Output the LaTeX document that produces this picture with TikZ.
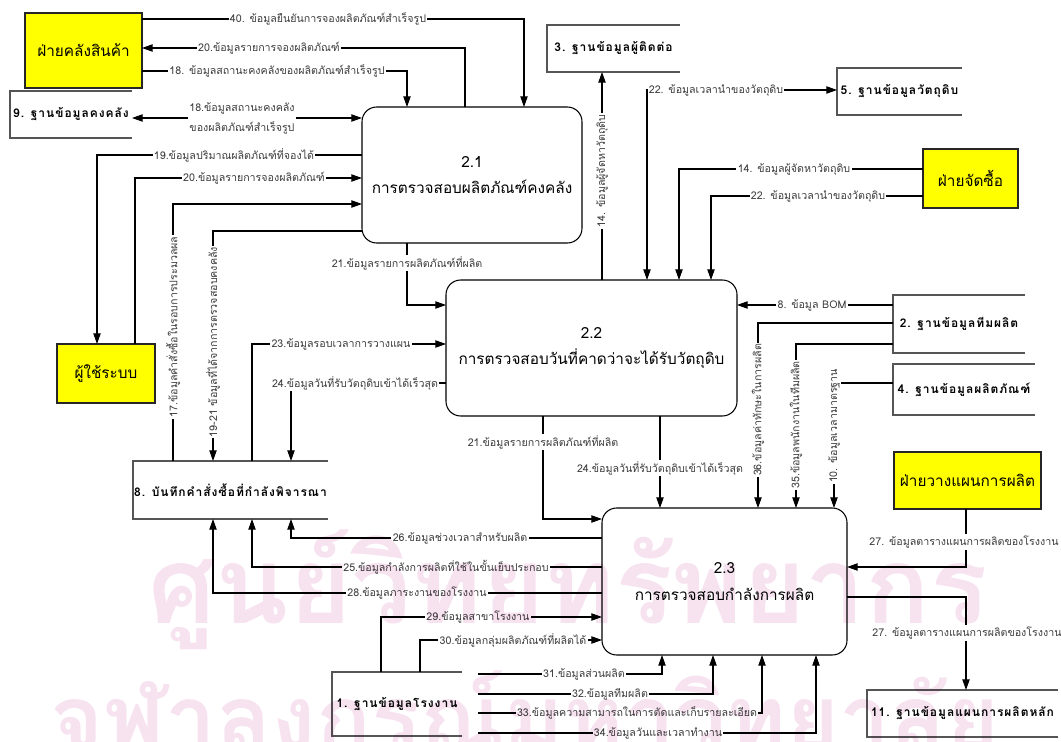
\documentclass[tikz,border=0pt]{standalone}
\usepackage{fontspec}
\setmainfont{Loma}[Script=Thai]
\usetikzlibrary{arrows.meta}
\definecolor{entfill}{RGB}{255,255,0}
\definecolor{lblgray}{RGB}{60,60,60}
\definecolor{storegray}{RGB}{85,85,85}
\definecolor{wmpink}{RGB}{247,226,240}
\newcommand\storefont{\fontsize{9}{11}\selectfont\bfseries\addfontfeature{LetterSpace=8}}
\begin{document}
\begin{tikzpicture}[x=0.75pt,y=-0.75pt,
  every node/.style={inner sep=0pt,outer sep=0pt},
  box/.style 2 args={minimum width=#1*0.75pt,minimum height=#2*0.75pt,anchor=north west},
  entity/.style={draw=black!85,line width=1.1pt,fill=entfill,font=\fontsize{11.5}{14}\selectfont},
  proc/.style={draw=black,line width=0.8pt,rounded corners=11pt,align=center,
    font=\fontsize{11.5}{20}\selectfont},
  store/.style={font=\storefont},
  storeline/.style={draw=storegray,line width=1.1pt},
  flow/.style={draw=black,line width=0.8pt,-{Triangle[length=8pt,width=5.5pt]}},
  flowtwo/.style={draw=black,line width=0.8pt,{Triangle[length=8pt,width=5.5pt]}-{Triangle[length=8pt,width=5.5pt]}},
  lbl/.style={font=\fontsize{8}{10}\selectfont,text=lblgray,fill=white,inner xsep=1pt,inner ysep=1pt},
  vlbl/.style={lbl,rotate=90}]
\useasboundingbox (0,0) rectangle (1061,742);

% external entities
\node[entity,box={117}{75}] (wh) at (25,13) {ฝ่ายคลังสินค้า};
\node[entity,box={95}{59}] (buy) at (923,149) {ฝ่ายจัดซื้อ};
\node[entity,box={98}{59}] (usr) at (57,344) {ผู้ใช้ระบบ};
\node[entity,box={147}{57}] (plan) at (894,452) {ฝ่ายวางแผนการผลิต};

% processes
\node[proc,box={220}{136}] (p21) at (362,107) {2.1\\การตรวจสอบผลิตภัณฑ์คงคลัง};
\node[proc,box={291}{136}] (p22) at (446,280) {2.2\\การตรวจสอบวันที่คาดว่าจะได้รับวัตถุดิบ};
\node[proc,box={245}{147}] (p23) at (602,508) {2.3\\การตรวจสอบกำลังการผลิต};

% data stores (open on the right)
\node[store,box={122}{47}] (d9) at (10,91) {9. ฐานข้อมูลคงคลัง};
\node[store,box={133}{47}] (d3) at (547,25) {3. ฐานข้อมูลผู้ติดต่อ};
\node[store,box={125}{47}] (d5) at (837,68) {5. ฐานข้อมูลวัตถุดิบ};
\node[store,box={132}{58}] (d2) at (893,295) {2. ฐานข้อมูลทีมผลิต};
\node[store,box={142}{51}] (d4) at (893,364) {4. ฐานข้อมูลผลิตภัณฑ์};
\node[store,box={195}{58}] (d8) at (133,461) {8. บันทึกคำสั่งซื้อที่กำลังพิจารณา};
\node[store,box={130}{64}] (d1) at (332,672) {1. ฐานข้อมูลโรงงาน};
\node[store,box={191}{47}] (d11) at (867,690) {11. ฐานข้อมูลแผนการผลิตหลัก};
\foreach \s in {d9,d3,d5,d2,d4,d8,d1,d11}
  \draw[storeline] (\s.north east) -- (\s.north west) -- (\s.south west) -- (\s.south east);

% free starting points of the flows 31-34
\coordinate (s31) at (478,674);
\coordinate (s32) at (478,694);
\coordinate (s33) at (478,713);
\coordinate (s34) at (478,733);

% flows around 2.1
\draw[flow] (wh.east |- 0,19) -| (p21.north -| 524,0);
\draw[flow] (p21.north -| 465,0) |- (wh.east |- 0,48);
\draw[flow] (wh.east |- 0,71) -| (p21.north -| 407,0);
\draw[flowtwo] (d9.east |- 0,118) -- (p21.west |- 0,118);
\draw[flow] (p21.west |- 0,155) -| (usr.north -| 97,0);
\draw[flow] (usr.north -| 135,0) |- (p21.west |- 0,178);
\draw[flow] (d8.north -| 173,0) |- (p21.west |- 0,204);
\draw[flow] (p21.west |- 0,231) -| (d8.north -| 213,0);
\draw[flow] (p21.south -| 407,0) |- (p22.west |- 0,305);

% flows around 2.2
\draw[flow] (d8.north -| 252,0) |- (p22.west |- 0,344);
\draw[flow] (p22.west |- 0,383) -| (d8.north -| 291,0);
\draw[flow] (p22.north -| 602,0) -- (d3.south -| 602,0);
\draw[flowtwo] (p22.north -| 647,0) |- (d5.west |- 0,90);
\draw[flow] (buy.west |- 0,169) -| (p22.north -| 679,0);
\draw[flow] (buy.west |- 0,196) -| (p22.north -| 711,0);
\draw[flow] (d2.west |- 0,305) -- (p22.east |- 0,305);
\draw[flow] (p22.south -| 543,0) |- (p23.west |- 0,519);
\draw[flow] (p22.south -| 660,0) -- (p23.north -| 660,0);

% flows around 2.3
\draw[flow] (d2.west |- 0,323) -| (p23.north -| 758,0);
\draw[flow] (d2.west |- 0,344) -| (p23.north -| 796,0);
\draw[flow] (d4.west |- 0,383) -| (p23.north -| 834,0);
\draw[flow] (p23.west |- 0,538) -| (d8.south -| 291,0);
\draw[flow] (p23.west |- 0,567) -| (d8.south -| 252,0);
\draw[flow] (p23.west |- 0,593) -| (d8.south -| 213,0);
\draw[flow] (d1.north -| 381,0) |- (p23.west |- 0,617);
\draw[flow] (d1.north -| 420,0) |- (p23.west |- 0,640);
\draw[flow] (s31) -| (p23.south -| 662,0);
\draw[flow] (s32) -| (p23.south -| 713,0);
\draw[flow] (s33) -| (p23.south -| 762,0);
\draw[flow] (s34) -| (p23.south -| 816,0);
\draw[flow] (plan.south -| 966,0) |- (p23.east |- 0,567);
\draw[flow] (p23.east |- 0,597) -| (d11.north -| 966,0);

% flow labels
\node[lbl] (l40) at (328,19) {40. ข้อมูลยืนยันการจองผลิตภัณฑ์สำเร็จรูป};
\node[lbl] (l20a) at (269,48) {20.ข้อมูลรายการจองผลิตภัณฑ์};
\node[lbl] (l18a) at (277,71) {18. ข้อมูลสถานะคงคลังของผลิตภัณฑ์สำเร็จรูป};
\node[lbl,align=center,font=\fontsize{8}{15}\selectfont] (l18b) at (242,118) {18.ข้อมูลสถานะคงคลัง\\ของผลิตภัณฑ์สำเร็จรูป};
\node[lbl] (l19) at (234,155) {19.ข้อมูลปริมาณผลิตภัณฑ์ที่จองได้};
\node[lbl] (l20b) at (254,178) {20.ข้อมูลรายการจองผลิตภัณฑ์};
\node[vlbl] (l17) at (173,327) {17.ข้อมูลคำสั่งซื้อในรอบการประมวลผล};
\node[vlbl] (l1921) at (213,342) {19-21 ข้อมูลที่ได้จากการตรวจสอบคงคลัง};
\node[lbl] (l21a) at (407,263) {21.ข้อมูลรายการผลิตภัณฑ์ที่ผลิต};
\node[lbl] (l23) at (341,344) {23.ข้อมูลรอบเวลาการวางแผน};
\node[lbl] (l24a) at (355,383) {24.ข้อมูลวันที่รับวัตถุดิบเข้าได้เร็วสุด};
\node[vlbl] (l14a) at (602,171) {14. ข้อมูลผู้จัดหาวัตถุดิบ};
\node[lbl] (l22a) at (716,90) {22. ข้อมูลเวลานำของวัตถุดิบ};
\node[lbl] (l14b) at (794,169) {14. ข้อมูลผู้จัดหาวัตถุดิบ};
\node[lbl] (l22b) at (818,196) {22. ข้อมูลเวลานำของวัตถุดิบ};
\node[lbl] (l8) at (812,305) {8. ข้อมูล BOM};
\node[lbl] (l21b) at (543,442) {21.ข้อมูลรายการผลิตภัณฑ์ที่ผลิต};
\node[lbl] (l24b) at (660,468) {24.ข้อมูลวันที่รับวัตถุดิบเข้าได้เร็วสุด};
\node[vlbl] (l36) at (758,410) {36.ข้อมูลค่าทักษะในการผลิต};
\node[vlbl] (l35) at (796,425) {35.ข้อมูลพนักงานในทีมผลิต};
\node[vlbl] (l10) at (834,426) {10. ข้อมูลเวลามาตรฐาน};
\node[lbl] (l26) at (460,538) {26.ข้อมูลช่วงเวลาสำหรับผลิต};
\node[lbl] (l25) at (446,567) {25.ข้อมูลกำลังการผลิตที่ใช้ในขั้นเย็บประกอบ};
\node[lbl] (l28) at (417,593) {28.ข้อมูลภาระงานของโรงงาน};
\node[lbl] (l29) at (478,617) {29.ข้อมูลสาขาโรงงาน};
\node[lbl] (l30) at (513,640) {30.ข้อมูลกลุ่มผลิตภัณฑ์ที่ผลิตได้};
\node[lbl] (l31) at (584,674) {31.ข้อมูลส่วนผลิต};
\node[lbl] (l32) at (610,694) {32.ข้อมูลทีมผลิต};
\node[lbl] (l33) at (637,713) {33.ข้อมูลความสามารถในการตัดและเก็บรายละเอียด};
\node[lbl] (l34) at (658,733) {34.ข้อมูลวันและเวลาทำงาน};
\node[lbl] (l27a) at (964,542) {27. ข้อมูลตารางแผนการผลิตของโรงงาน};
\node[lbl] (l27b) at (967,633) {27. ข้อมูลตารางแผนการผลิตของโรงงาน};

% library watermark, printed over the page
\begin{scope}[blend mode=multiply]
\node[anchor=base west,text=wmpink] (wm1) at (148,623) {\resizebox{630pt}{!}{\bfseries ศูนย์วิทยทรัพยากร}};
\node[anchor=base west,text=wmpink] (wm2) at (50,750) {\resizebox{712pt}{!}{\bfseries จุฬาลงกรณ์มหาวิทยาลัย}};
\end{scope}
\end{tikzpicture}
\end{document}
